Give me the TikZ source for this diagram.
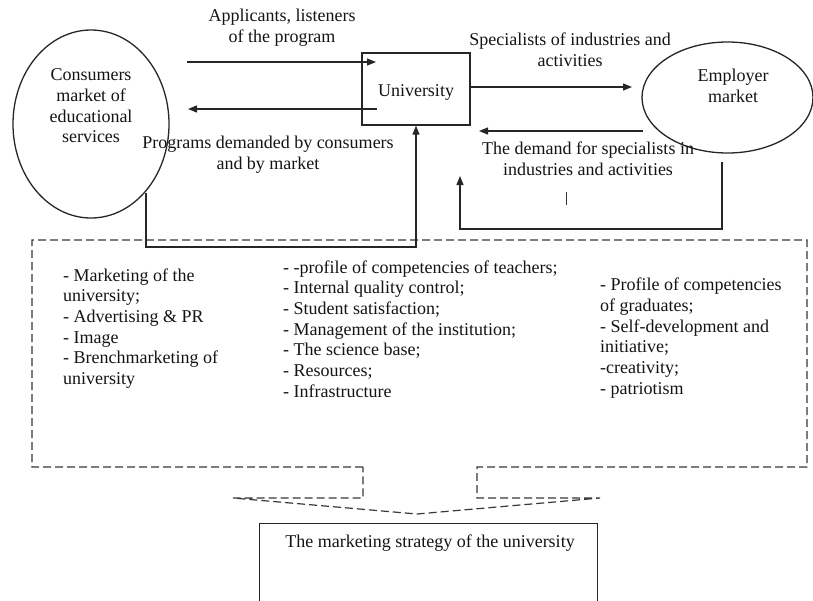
\documentclass[tikz,border=0pt]{standalone}
\usepackage{fontspec}
\setmainfont{Liberation Serif}
\usetikzlibrary{arrows.meta,shapes.geometric}
\begin{document}
\begin{tikzpicture}[x=1pt,y=-1pt,
  line/.style={draw=black!85, line width=1.3pt},
  arr/.style={line, -{Triangle[length=9pt,width=7pt]}},
  dashline/.style={draw=black!78, line width=1.2pt, dash pattern=on 8pt off 4pt},
  lbl/.style={font=\fontsize{18}{20.7}\selectfont, align=center, inner sep=0pt, text=black!92},
  col/.style={lbl, align=left, anchor=west}
]
\useasboundingbox (0,0) rectangle (813,600);

% main shapes
\node[ellipse, line, minimum width=156, minimum height=188, inner sep=0pt] (cons) at (91,124) {};
\node[lbl] (constext) at (91,106) {Consumers\\market of\\educational\\services};
\node[line, minimum width=108, minimum height=72, inner sep=0pt] (univ) at (416,89) {};
\node[lbl] (univtext) at (416,92) {University};
\node[ellipse, line, minimum width=171, minimum height=111, inner sep=0pt] (empl) at (727.5,97.5) {};
\node[lbl] (empltext) at (733,86) {Employer\\market};

% arrow labels
\node[lbl] (l1) at (282,28) {Applicants, listeners\\of the program};
\node[lbl] (l2) at (268,155) {Programs demanded by consumers\\and by market};
\node[lbl] (l3) at (570,50) {Specialists of industries and\\activities};
\node[lbl] (l4) at (588,159) {The demand for specialists in\\industries and activities};

% arrows
\coordinate (a1s) at (187,62);
\coordinate (a1e) at (376,62);
\draw[arr] (a1s) -- (a1e);
\coordinate (a2s) at (377,109);
\coordinate (a2e) at (188,109);
\draw[arr] (a2s) -- (a2e);
\coordinate (a3e) at (632,87);
\draw[arr] (univ.east |- a3e) -- (a3e);
\coordinate (a4s) at (643,131);
\coordinate (a4e) at (479,131);
\draw[arr] (a4s) -- (a4e);

% small tick
\coordinate (t1) at (566,192);
\coordinate (t2) at (566,205);
\draw[draw=black!80, line width=1pt] (t1) -- (t2);

% dashed frame
\draw[dashline] (363,467) -- (32,467) -- (32,240) -- (807,240) -- (807,467)
  -- (477,467) -- (477,498) -- (600,498) -- (417,514) -- (233,498) -- (363,498) -- cycle;

% feedback paths
\coordinate (c1) at (146,193);
\coordinate (c2) at (146,247);
\draw[arr] (c1) -- (c2) -| (univ.south);
\coordinate (e1) at (722,162);
\coordinate (e2) at (722,229);
\coordinate (e3) at (460,176);
\draw[arr] (e1) -- (e2) -| (e3);

% columns
\node[col] (col1) at (63,328.5) {- Marketing of the\\university;\\- Advertising \& PR\\- Image\\- Brenchmarketing of\\university};
\node[col] (col2) at (283,329) {- -profile of competencies of teachers;\\- Internal quality control;\\- Student satisfaction;\\- Management of the institution;\\- The science base;\\- Resources;\\- Infrastructure};
\node[col] (col3) at (600,338) {- Profile of competencies\\of graduates;\\- Self-development and\\initiative;\\-creativity;\\- patriotism};

% strategy box
\node[line, minimum width=338, minimum height=95, inner sep=0pt, anchor=north west] (strat) at (259,523) {};
\node[lbl] (strattext) at (430,543) {The marketing strategy of the university};
\end{tikzpicture}
\end{document}
